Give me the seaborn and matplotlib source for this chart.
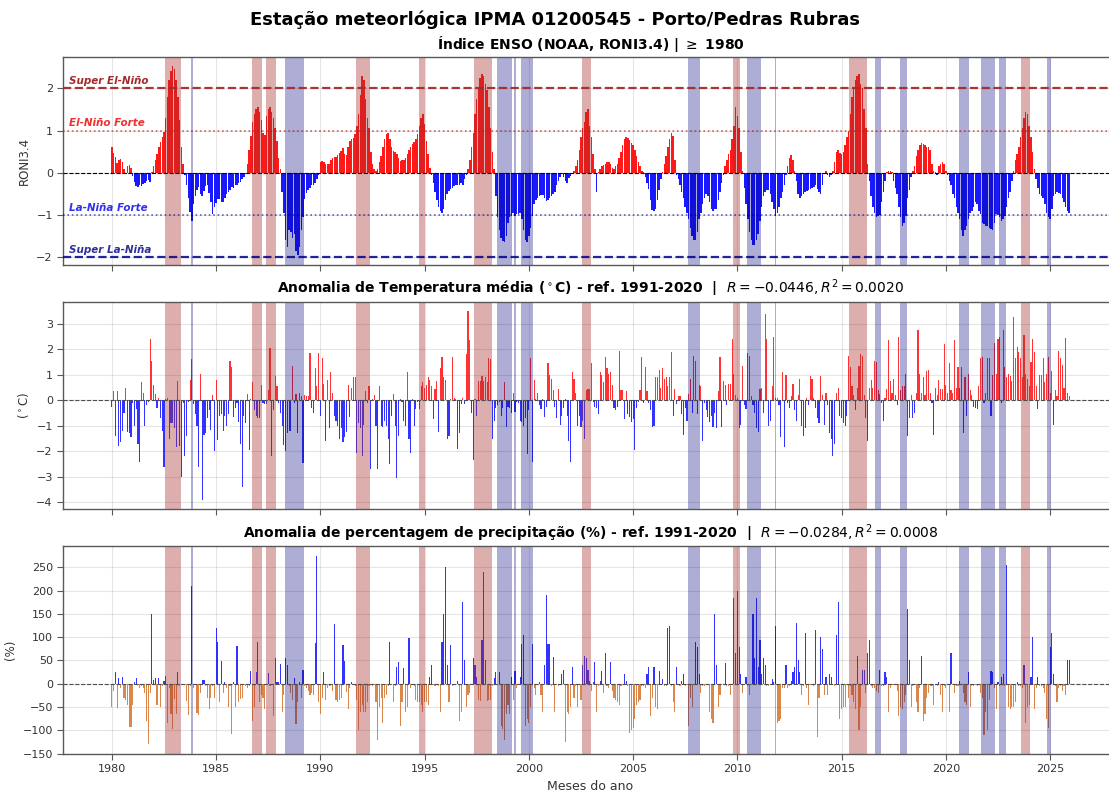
import numpy as np
import pandas as pd
import matplotlib
matplotlib.use("Agg")
import matplotlib.pyplot as plt
import seaborn as sns

# meses de jan/1980 a dez/2025
anos = list(range(1980, 2026))

# indice RONI3.4 mensal (NOAA), uma linha por ano (jan..dez)
roni = [
    0.62, 0.47, 0.38, 0.24, 0.31, 0.33, 0.25, 0.10, -0.03, 0.17, 0.19, 0.12,
    -0.08, -0.22, -0.32, -0.34, -0.30, -0.31, -0.27, -0.24, -0.20, -0.17, -0.22, 0.03,
    0.15, 0.30, 0.45, 0.60, 0.72, 0.85, 0.97, 1.30, 1.80, 2.20, 2.40, 2.52,
    2.45, 2.20, 1.80, 1.25, 0.60, 0.22, -0.05, -0.30, -0.60, -0.93, -1.13, -0.75,
    -0.55, -0.40, -0.33, -0.50, -0.55, -0.42, -0.32, -0.30, -0.48, -0.70, -0.98, -0.80,
    -0.72, -0.63, -0.62, -0.68, -0.70, -0.60, -0.50, -0.45, -0.40, -0.33, -0.36, -0.30,
    -0.28, -0.25, -0.22, -0.15, -0.10, -0.03, 0.20, 0.55, 0.88, 1.20, 1.40, 1.50,
    1.55, 1.45, 1.25, 0.95, 0.90, 1.35, 1.50, 1.55, 1.45, 1.30, 1.05, 0.75,
    0.35, 0.10, -0.45, -0.95, -1.60, -1.75, -1.35, -1.40, -1.55, -1.45, -1.85, -1.95,
    -1.75, -1.35, -1.05, -0.62, -0.47, -0.40, -0.35, -0.30, -0.30, -0.25, -0.15, -0.05,
    0.25, 0.28, 0.25, 0.20, 0.22, 0.20, 0.30, 0.35, 0.38, 0.38, 0.42, 0.47,
    0.52, 0.58, 0.45, 0.42, 0.60, 0.75, 0.80, 0.82, 0.92, 1.10, 1.40, 1.85,
    2.30, 2.20, 1.75, 1.30, 1.05, 0.50, 0.20, 0.10, 0.05, 0.10, 0.25, 0.40,
    0.60, 0.80, 0.92, 0.95, 0.80, 0.62, 0.52, 0.50, 0.45, 0.35, 0.28, 0.30,
    0.30, 0.35, 0.45, 0.55, 0.62, 0.68, 0.72, 0.80, 0.92, 1.10, 1.30, 1.40,
    1.15, 0.75, 0.45, 0.12, -0.05, -0.25, -0.45, -0.65, -0.80, -0.90, -0.95, -0.85,
    -0.65, -0.50, -0.42, -0.38, -0.35, -0.32, -0.30, -0.28, -0.28, -0.25, -0.28, -0.15,
    -0.05, 0.10, 0.30, 0.60, 0.95, 1.40, 1.75, 2.00, 2.25, 2.35, 2.30, 2.10,
    1.95, 1.55, 1.05, 0.50, 0.10, -0.55, -1.05, -1.35, -1.55, -1.62, -1.65, -1.50,
    -1.20, -1.05, -1.02, -0.95, -1.03, -0.97, -0.98, -0.95, -1.10, -1.35, -1.60, -1.65,
    -1.50, -1.30, -1.02, -0.75, -0.65, -0.60, -0.55, -0.52, -0.52, -0.60, -0.67, -0.65,
    -0.60, -0.55, -0.50, -0.45, -0.30, -0.20, -0.10, -0.02, -0.10, -0.20, -0.25, -0.12,
    -0.08, -0.03, 0.05, 0.15, 0.30, 0.55, 0.85, 1.05, 1.20, 1.45, 1.50, 1.10,
    0.85, 0.45, 0.10, -0.45, 0.02, 0.10, 0.15, 0.18, 0.20, 0.25, 0.25, 0.20,
    0.12, 0.10, 0.15, 0.20, 0.35, 0.50, 0.65, 0.80, 0.85, 0.82, 0.78, 0.70,
    0.65, 0.55, 0.40, 0.25, 0.15, 0.05, 0.02, -0.10, -0.25, -0.38, -0.65, -0.88,
    -0.90, -0.85, -0.65, -0.40, -0.15, 0.03, 0.20, 0.40, 0.60, 0.80, 0.95, 0.88,
    0.30, -0.05, -0.15, -0.30, -0.45, -0.60, -0.80, -0.95, -1.10, -1.30, -1.50, -1.60,
    -1.60, -1.40, -1.10, -0.95, -0.75, -0.60, -0.50, -0.55, -0.70, -0.85, -0.90, -0.85,
    -0.85, -0.65, -0.45, -0.25, -0.05, 0.15, 0.30, 0.45, 0.55, 0.80, 1.10, 1.55,
    1.35, 1.05, 0.50, 0.05, -0.35, -0.75, -1.10, -1.40, -1.60, -1.72, -1.70, -1.60,
    -1.45, -1.15, -0.80, -0.55, -0.45, -0.40, -0.40, -0.50, -0.70, -0.85, -1.03, -0.95,
    -0.80, -0.60, -0.45, -0.30, -0.05, 0.15, 0.35, 0.42, 0.30, 0.05, -0.20, -0.50,
    -0.60, -0.55, -0.50, -0.45, -0.42, -0.40, -0.38, -0.35, -0.33, -0.30, -0.38, -0.45,
    -0.50, -0.30, -0.02, 0.05, -0.05, -0.10, -0.05, 0.05, 0.25, 0.50, 0.55, 0.47,
    0.45, 0.50, 0.65, 0.85, 0.98, 1.40, 1.80, 2.00, 2.20, 2.30, 2.35, 2.10,
    2.00, 1.50, 1.05, 0.20, -0.20, -0.55, -0.80, -0.95, -1.05, -1.02, -1.01, -0.70,
    -0.45, -0.20, 0.02, 0.05, 0.05, 0.03, -0.20, -0.35, -0.50, -0.80, -1.05, -1.25,
    -1.20, -1.02, -0.60, -0.40, -0.10, 0.05, 0.15, 0.40, 0.55, 0.65, 0.70, 0.68,
    0.65, 0.62, 0.60, 0.55, 0.20, 0.05, 0.02, -0.05, 0.15, 0.20, 0.25, 0.20,
    0.05, -0.05, -0.20, -0.30, -0.50, -0.60, -0.80, -0.95, -1.10, -1.35, -1.50, -1.35,
    -1.25, -1.10, -0.95, -0.90, -0.80, -0.70, -0.75, -0.90, -0.98, -1.20, -1.22, -1.25,
    -1.25, -1.30, -1.32, -1.35, -1.20, -0.98, -0.99, -1.05, -1.15, -1.10, -1.02, -0.80,
    -0.60, -0.45, -0.20, 0.05, 0.30, 0.45, 0.60, 0.85, 1.05, 1.30, 1.45, 1.40,
    1.10, 0.85, 0.50, 0.10, -0.15, -0.35, -0.50, -0.55, -0.60, -0.75, -0.95, -1.05,
    -1.10, -0.85, -0.55, -0.50, -0.45, -0.48, -0.50, -0.60, -0.70, -0.80, -0.90, -0.95,
]

# anomalia da temperatura media mensal (C), ref. 1991-2020
temp = [
    -0.25, 0.35, -1.4, 0.35, -1.8, -1.65, -1.2, -0.5, 0.5, -1.25, -1.3, -1.45,
    -0.1, -1.0, -0.35, -1.7, -2.4, 0.7, 0.3, -1.0, -0.2, -0.05, 2.4, 1.55,
    0.6, 0.25, -0.3, 0.1, -0.7, -1.2, -2.6, 0.05, 0.1, -1.5, -0.9, -0.9,
    -1.1, -1.85, 0.75, -1.8, -3.0, -0.1, -2.2, -1.4, -0.05, 0.8, 1.6, -0.15,
    -0.55, -1.0, -2.6, 1.05, -3.9, -1.35, -1.3, -0.7, -0.4, -1.15, 0.2, -2.0,
    0.8, -1.55, -0.6, -0.55, -1.2, -0.6, -1.0, -0.55, 1.55, 1.3, -0.65, -0.3,
    -0.1, -0.85, -1.7, -3.4, -0.6, -0.9, 0.25, -1.95, 0.05, 0.7, -0.4, -0.6,
    -0.7, -0.7, 0.6, -0.1, -0.15, -0.15, 0.4, 2.05, -2.2, -0.4, 0.95, 0.55,
    -0.1, -0.5, -1.0, -1.75, -2.0, -1.3, -1.2, -1.2, 1.35, -0.1, 0.25, -1.3,
    0.3, 0.15, -2.45, 0.2, 0.15, 0.15, 1.85, -0.3, -0.5, 1.25, 0.55, 1.85,
    -0.6, 1.65, 0.65, -1.6, 0.8, -1.1, 1.1, 0.3, -0.6, -0.8, -1.0, -1.5,
    -1.1, -1.65, -1.45, -1.25, 0.6, -0.65, 0.5, 0.9, 0.9, -2.05, -0.9, -1.1,
    -2.2, -0.95, 0.35, -0.1, 0.55, -2.7, 0.05, 0.2, -1.0, -2.7, 0.55, -1.0,
    -1.05, -0.8, -1.0, -1.5, -2.5, -0.6, 0.25, -1.0, -3.05, -1.4, 0.05, -0.05,
    -0.8, -1.0, 1.1, -1.5, -2.05, 0.05, -1.0, -0.35, -0.05, -0.35, 0.55, 0.7,
    0.5, 0.6, 0.9, 0.8, 0.55, -0.75, 0.45, 0.75, -1.25, 1.25, 1.7, 0.9,
    0.8, -1.5, -1.4, 0.05, 1.7, 0.1, 0.05, -1.9, -1.3, -0.15, 0.1, -0.15,
    1.8, 3.5, 2.35, -0.5, -2.35, 0.05, -0.6, 0.75, 0.75, 0.95, 0.75, 0.9,
    0.7, 1.65, 1.6, -1.5, -0.8, -0.3, -0.2, -0.05, -0.6, -0.3, 0.7, -1.05,
    -0.25, -0.3, -0.5, 0.3, -0.45, -0.05, -0.1, -0.8, -0.85, -1.0, -0.7, -2.1,
    -0.4, 1.65, -2.4, 0.8, 0.05, 0.3, -0.2, -0.35, 0.05, -0.65, -0.25, 1.45,
    1.0, 0.85, 0.4, -0.25, -0.7, 0.45, -0.95, -0.6, -0.3, 0.05, -0.6, -1.6,
    -2.4, 1.1, 0.85, 0.3, -1.0, -0.6, -1.05, -0.8, -1.5, 0.4, 0.45, 0.45,
    1.45, -0.05, -0.25, -0.3, -0.55, 1.1, 1.0, 0.7, 1.7, 1.25, 1.05, 1.1,
    0.6, -0.3, -0.4, -0.25, 1.95, 0.4, 0.4, -0.75, 0.35, -0.55, -0.65, -0.85,
    -0.75, -1.95, -0.3, -0.05, 0.4, 1.7, -0.1, 1.3, 0.35, -0.1, -0.4, -1.05,
    -1.0, 0.9, 0.9, 1.2, 0.5, 1.25, 0.85, 0.9, 0.55, 0.9, 1.9, -0.6,
    0.45, -0.15, 0.15, 0.15, -0.55, -1.35, -0.3, -0.8, 0.25, 0.85, -0.5, 1.75,
    1.55, -0.55, 0.6, 0.55, -1.6, -0.1, -0.4, -0.65, -0.85, -0.6, -1.05, -0.5,
    -1.1, 0.35, 1.7, -1.05, 0.75, 0.6, -0.2, 0.65, 0.65, 2.4, 1.05, 0.2,
    0.1, -1.1, -0.95, 1.35, -0.2, -0.35, 1.85, 1.75, 0.15, -0.2, -0.5, -1.1,
    -1.25, 0.45, 0.5, -0.5, 3.4, 2.4, -1.0, -0.8, 0.55, 2.5, 0.1, 0.1,
    -0.2, -1.45, 1.1, -1.85, 1.0, -0.1, -0.3, 0.15, 0.65, -0.4, -0.8, 0.2,
    0.85, -1.0, -1.4, -1.1, 0.1, -0.2, 0.95, 0.85, 0.1, -0.3, -0.7, -0.9,
    0.95, 0.2, -0.95, 0.3, -0.2, -1.3, -1.5, -2.2, -1.7, 0.3, 0.5, -0.6,
    -0.7, -0.9, -1.0, -0.6, 1.75, 1.3, 0.55, 0.2, -0.4, 0.5, 1.35, 1.8,
    1.75, 0.2, -0.7, -1.6, 0.5, 0.8, 0.5, 1.55, 1.5, 0.4, 0.25, -0.1,
    -0.8, 0.1, 0.45, 2.35, 0.75, 0.3, 0.85, 0.2, -0.2, 2.5, 0.4, 0.55,
    0.55, 1.05, -1.4, -0.7, 0.2, -0.7, -0.5, 0.3, 2.75, 1.05, 0.3, 0.9,
    0.2, 1.15, 1.2, 0.3, -0.1, -1.35, 0.5, 0.2, 0.8, 0.45, 0.45, 2.2,
    0.6, 0.3, 1.45, 0.4, 0.3, 2.35, 0.5, 1.3, 0.5, 1.3, -1.3, 0.9,
    -0.6, 1.05, 0.4, 0.2, -0.25, -0.3, -0.35, 0.55, 1.65, 1.7, -0.1, 0.3,
    1.65, 1.65, -0.6, 1.0, 2.25, 1.05, 2.4, 2.5, -0.1, 2.75, 1.3, 0.9,
    1.05, 0.95, 0.75, 3.25, 1.65, 2.1, 1.9, 1.65, 0.9, 2.55, 1.05, 0.85,
    0.55, 1.5, 2.4, 1.9, 0.55, -0.35, 1.0, 1.0, 1.65, 0.7, 1.05, 1.7,
    0.3, 1.15, -0.95, 0.4, 0.15, 1.95, 1.65, 1.4, 0.5, 2.45, 0.3, 0.15,
]

# anomalia da percentagem de precipitacao mensal (%), ref. 1991-2020
prec = [
    -50, -15, 25, -52, 13, -10, 15, -30, -35, -45, -93, -92,
    -45, 3, 13, -3, -10, -5, -10, -20, -80, -130, -20, 150,
    8, 13, -45, 12, -50, -5, 5, 17, -85, -10, -65, -97,
    -33, -65, 25, -5, -3, 0, 0, -37, -67, -5, 210, -10,
    -3, -62, -66, -20, 8, 8, -5, -30, -55, -30, -5, -30,
    120, 90, -40, 48, -20, 3, -10, -50, -5, -108, 3, -50,
    82, -40, -33, -30, -3, -5, -10, -5, 28, -80, -50, 25,
    90, -40, -25, -30, -55, -3, 23, -5, -3, -70, 55, 3,
    3, 42, -60, -25, 55, 40, -5, -20, -35, 12, -87, -40,
    3, -30, 30, -5, -10, -15, -25, -20, -25, 87, 275, -40,
    -65, -30, 25, -35, -10, -5, -5, -15, 128, -35, -40, -35,
    -30, 83, 48, -18, -55, -10, 3, -3, -5, -35, -100, -60,
    -45, -60, -60, -40, -5, -3, -5, -3, -40, -120, -50, -30,
    -85, -30, -25, -5, 90, -3, -40, -5, 35, 47, -90, -40,
    33, -60, -50, 98, -10, -3, -5, -35, -40, -40, -45, -60,
    -40, -40, -45, 15, 40, -3, -5, -3, -5, -60, 90, 150,
    250, 40, -40, 83, -5, -3, -3, 5, -80, -60, 175, 50,
    -50, -25, -20, -3, 55, 40, 15, -35, -37, 95, 240, 50,
    -37, -35, -35, -5, 13, 25, -3, 25, -90, -97, -120, -65,
    -45, -65, 15, -35, 27, -10, -3, 15, 85, 105, -90, -75,
    -85, -50, 85, -10, -25, -3, 3, -25, -60, 40, 190, 85,
    85, -5, 58, -60, -3, -5, -3, 20, 30, -125, -60, -65,
    -50, 35, -30, -5, -50, -3, -35, 40, 60, 55, 30, 5,
    -15, 3, 47, -60, -5, 5, 28, -20, 65, -5, -10, 47,
    -15, -30, -35, -40, -45, -5, -3, 20, 5, -5, -105, -100,
    -95, -75, -45, -40, -35, -5, -5, -10, 20, 37, -70, -30,
    37, -50, -55, 27, -3, 10, -5, -5, 120, 125, -5, -40,
    -60, 37, -3, -5, 5, 20, -5, -3, -90, -30, -50, -3,
    90, 80, 20, -20, -5, -5, -3, -3, -60, -75, -85, 150,
    40, -50, -25, -3, -3, 45, -5, -5, -25, -3, 185, 67,
    200, 80, 20, -20, -3, 15, -5, -25, -3, 150, 55, 185,
    35, 95, 20, 55, 40, -5, -5, -3, 10, 3, 125, -85,
    -80, -75, -10, -10, 40, -10, -5, 5, 25, 35, 130, 50,
    25, -25, -5, 110, -10, -45, -3, -3, -5, 115, -115, -30,
    100, 75, -25, 15, -25, 20, 15, -3, -5, 105, 175, -75,
    -55, -50, -50, -3, -30, -5, -25, -40, -55, 60, -100, -50,
    30, 30, -20, 67, 95, -5, -10, -10, -15, -20, 30, -5,
    -5, 25, 15, -60, -10, -3, -3, -3, -15, -70, -50, -55,
    -40, -25, 160, 50, -50, -5, -3, -40, -60, -10, 60, -80,
    -65, -30, -20, -5, -5, -45, -3, -5, 3, -25, -60, -5,
    -10, -3, -60, 65, -3, -20, -5, -5, 5, -3, -20, -40,
    -45, 25, -50, -5, -5, -3, -5, -3, -20, -30, -110, -60,
    -100, -35, 27, 25, -10, -55, 3, -5, 15, 20, -5, 255,
    -50, -55, -50, -50, -40, 3, -5, -5, -10, 40, -85, -50,
    -45, 15, 100, -55, -10, 15, -5, -5, -10, -20, -75, -95,
    80, 110, 20, -5, -40, -10, -5, -15, -5, -25, 50, 52,
]

limiares = [2, 1, -1, -2]
rotulos = ["Super El-Niño", "El-Niño Forte", "La-Niña Forte", "Super La-Niña"]

titulo = "Estação meteorlógica IPMA 01200545 - Porto/Pedras Rubras"
tit_enso = "Índice ENSO (NOAA, RONI3.4) | $\\geq$ 1980"
tit_temp = ("Anomalia de Temperatura média ($^\\circ$C) - ref. 1991-2020  |  "
            "$R = -0.0446, R^2 = 0.0020$")
tit_prec = ("Anomalia de percentagem de precipitação (%) - ref. 1991-2020  |  "
            "$R = -0.0284, R^2 = 0.0008$")

meses = np.array([a + m / 12 for a in anos for m in range(12)])

sns.set_theme(style="ticks")
plt.rcParams["font.family"] = ["DejaVu Sans"]
plt.rcParams["text.color"] = "black"
plt.rcParams["axes.titlecolor"] = "black"
plt.rcParams["axes.edgecolor"] = "0.35"
plt.rcParams["axes.linewidth"] = 1.0
plt.rcParams["xtick.color"] = "0.35"
plt.rcParams["ytick.color"] = "0.35"
plt.rcParams["xtick.labelcolor"] = "0.2"
plt.rcParams["ytick.labelcolor"] = "0.2"


def barras(ax, valores, cor_pos, cor_neg, largura, alpha):
    df = pd.DataFrame({"t": meses, "v": valores})
    df["sinal"] = np.where(df["v"] >= 0, "pos", "neg")
    sns.barplot(data=df, x="t", y="v", hue="sinal",
                palette={"pos": cor_pos, "neg": cor_neg}, saturation=1,
                native_scale=True, width=largura, dodge=False,
                errorbar=None, legend=False, alpha=alpha,
                linewidth=0, ax=ax)


def faixas(ax):
    r = np.array(roni)
    for mask, cor, a in [(r > 1, "brown", 0.38), (r < -1, "navy", 0.32)]:
        idx = np.flatnonzero(mask)
        for g in np.split(idx, np.where(np.diff(idx) > 1)[0] + 1):
            ax.axvspan(meses[g[0]] - 1 / 24, meses[g[-1]] + 1 / 24,
                       color=cor, alpha=a, lw=0, zorder=2)


fig, axs = plt.subplots(3, 1, figsize=(11.09, 7.91), dpi=100, sharex=True)
fig.subplots_adjust(left=0.057, right=1.008, top=0.928, bottom=0.047, hspace=0.178)

barras(axs[0], roni, "red", "blue", 0.85, 0.9)
barras(axs[1], temp, "red", "blue", 0.65, 0.8)
barras(axs[2], prec, "blue", "chocolate", 0.65, 0.8)

for ax in axs:
    faixas(ax)
    ax.grid(True, color="0.5", alpha=0.2, lw=0.8)
    ax.set_axisbelow(True)
    ax.set_xlabel("")
    ax.tick_params(labelsize=8, length=4, width=0.8)

ax = axs[0]
ax.axhline(0, color="black", ls="--", lw=0.8, zorder=3)
estilos = [("brown", "--", 1.6, 0.95), ("brown", ":", 1.2, 0.7),
           ("darkblue", ":", 1.2, 0.6), ("darkblue", "--", 1.6, 0.85)]
cores_txt = ["brown", "#f03030", "#3030f0", "#30309a"]
for y, rot, (c, ls, lw, a), ct in zip(limiares, rotulos, estilos, cores_txt):
    ax.axhline(y, color=c, ls=ls, lw=lw, alpha=a, zorder=3)
    ax.text(1977.95, y + 0.06, rot, color=ct, fontsize=7.5, fontweight="bold",
            fontstyle="italic", va="bottom", ha="left")
ax.set_yticks([-2, -1, 0, 1, 2])
ax.set_ylabel("RONI3.4", fontsize=8.5, color="0.2")
ax.set_title(tit_enso, fontsize=10, fontweight="bold")

ax = axs[1]
ax.axhline(0, color="0.3", ls="--", lw=0.8, zorder=3)
ax.set_yticks(range(-4, 4))
ax.set_ylabel("($^\\circ$C)", fontsize=8.5, color="0.2")
ax.set_title(tit_temp, fontsize=10, fontweight="bold")

ax = axs[2]
ax.axhline(0, color="0.3", ls="--", lw=0.8, zorder=3)
ax.set_yticks(range(-150, 300, 50))
ax.set_ylabel("(%)", fontsize=8.5, color="0.2")
ax.set_title(tit_prec, fontsize=10, fontweight="bold")
ax.set_xticks(range(1980, 2030, 5))
ax.set_xlabel("Meses do ano", fontsize=9, color="0.2")

fig.suptitle(titulo, fontsize=13, fontweight="bold", y=0.987)

fig.savefig("out.png", dpi=100)
